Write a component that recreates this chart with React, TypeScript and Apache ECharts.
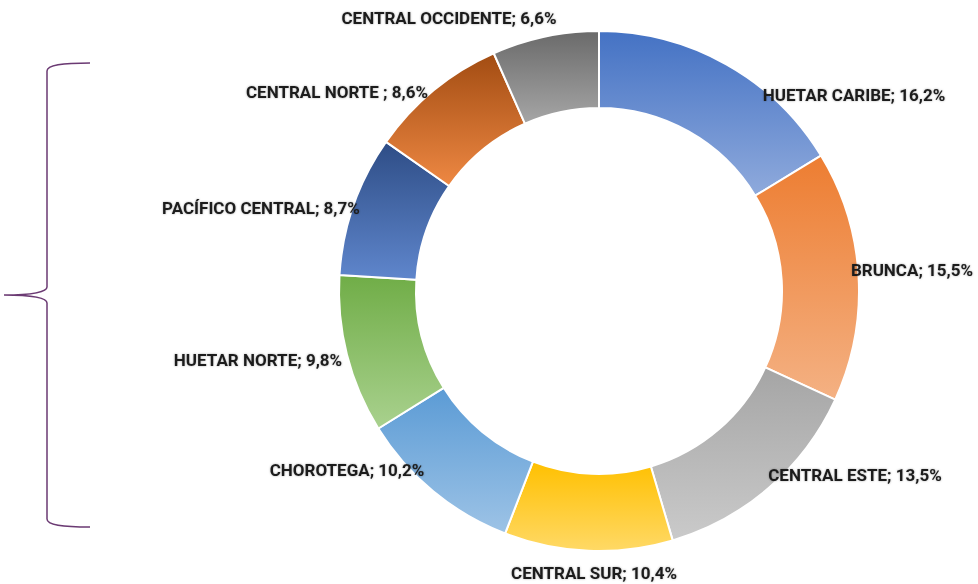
import React, { useEffect, useRef } from 'react';
import * as echarts from 'echarts';

const regions = [
  'HUETAR CARIBE',
  'BRUNCA',
  'CENTRAL ESTE',
  'CENTRAL SUR',
  'CHOROTEGA',
  'HUETAR NORTE',
  'PACÍFICO CENTRAL',
  'CENTRAL NORTE ',
  'CENTRAL OCCIDENTE',
];
const shares = [16.2, 15.5, 13.5, 10.4, 10.2, 9.8, 8.7, 8.6, 6.6];

const topColors = ['#4472C4', '#ED7D31', '#A5A5A5', '#FFC000', '#5B9BD5', '#70AD47', '#2E4D86', '#A24C12', '#6A6A6A'];
const bottomColors = ['#8FAADC', '#F4B183', '#CACACA', '#FFD966', '#9DC3E6', '#A9D18E', '#5F86CC', '#EE8843', '#A6A6A6'];

// label centres (page pixels)
const labelAnchors: [number, number][] = [
  [854, 95],
  [912, 270],
  [855, 475],
  [594, 573],
  [347, 470],
  [258, 360],
  [261, 208],
  [337, 92],
  [449, 18],
];

const bracePath =
  'M90,63 C62,63 47,65 47,71 L47,287 C47,292 32,295 4,295 C32,295 47,298 47,303 L47,519 C47,525 62,527 90,527';

let registered = false;

export default function App() {
  const ref = useRef<HTMLDivElement>(null);
  useEffect(() => {
    if (!ref.current) return;
    if (!registered) {
      echarts.graphic.registerShape('brace', echarts.graphic.extendPath(bracePath, {}) as any);
      registered = true;
    }
    const chart = echarts.init(ref.current, null, { renderer: 'svg' });
    const fmt = (v: number) => v.toFixed(1).replace('.', ',');
    chart.setOption({
      animation: false,
      backgroundColor: '#ffffff',
      graphic: [
        {
          type: 'brace',
          x: 0,
          y: 0,
          scaleX: 1,
          scaleY: 1,
          style: { fill: 'none', stroke: '#6B3A73', lineWidth: 1.5 },
        },
      ],
      series: [
        {
          type: 'pie',
          center: [599, 291],
          radius: [183, 260],
          startAngle: 90,
          clockwise: true,
          avoidLabelOverlap: false,
          itemStyle: { borderColor: '#ffffff', borderWidth: 2 },
          label: {
            show: true,
            position: 'outside',
            fontFamily: 'Roboto, "Noto Sans", sans-serif',
            fontWeight: 'bold',
            fontSize: 17,
            color: '#1e1e1e',
            textShadowColor: 'rgba(0,0,0,0.3)',
            textShadowBlur: 2,
            formatter: (p: any) => `${p.name}; ${fmt(p.value)}%`,
          },
          labelLine: { show: false },
          labelLayout: (p: any) => {
            const a = labelAnchors[p.dataIndex];
            return { x: a[0], y: a[1], align: 'center', verticalAlign: 'middle', hideOverlap: false, moveOverlap: null };
          },
          emphasis: { disabled: true },
          data: regions.map((name, i) => ({
            name,
            value: shares[i],
            itemStyle: {
              color: new echarts.graphic.LinearGradient(0, 0, 0, 1, [
                { offset: 0, color: topColors[i] },
                { offset: 1, color: bottomColors[i] },
              ]),
            },
          })),
        },
      ],
    });
    return () => chart.dispose();
  }, []);
  return <div ref={ref} style={{ position: 'fixed', left: 0, top: 0, width: 978, height: 584 }} />;
}
